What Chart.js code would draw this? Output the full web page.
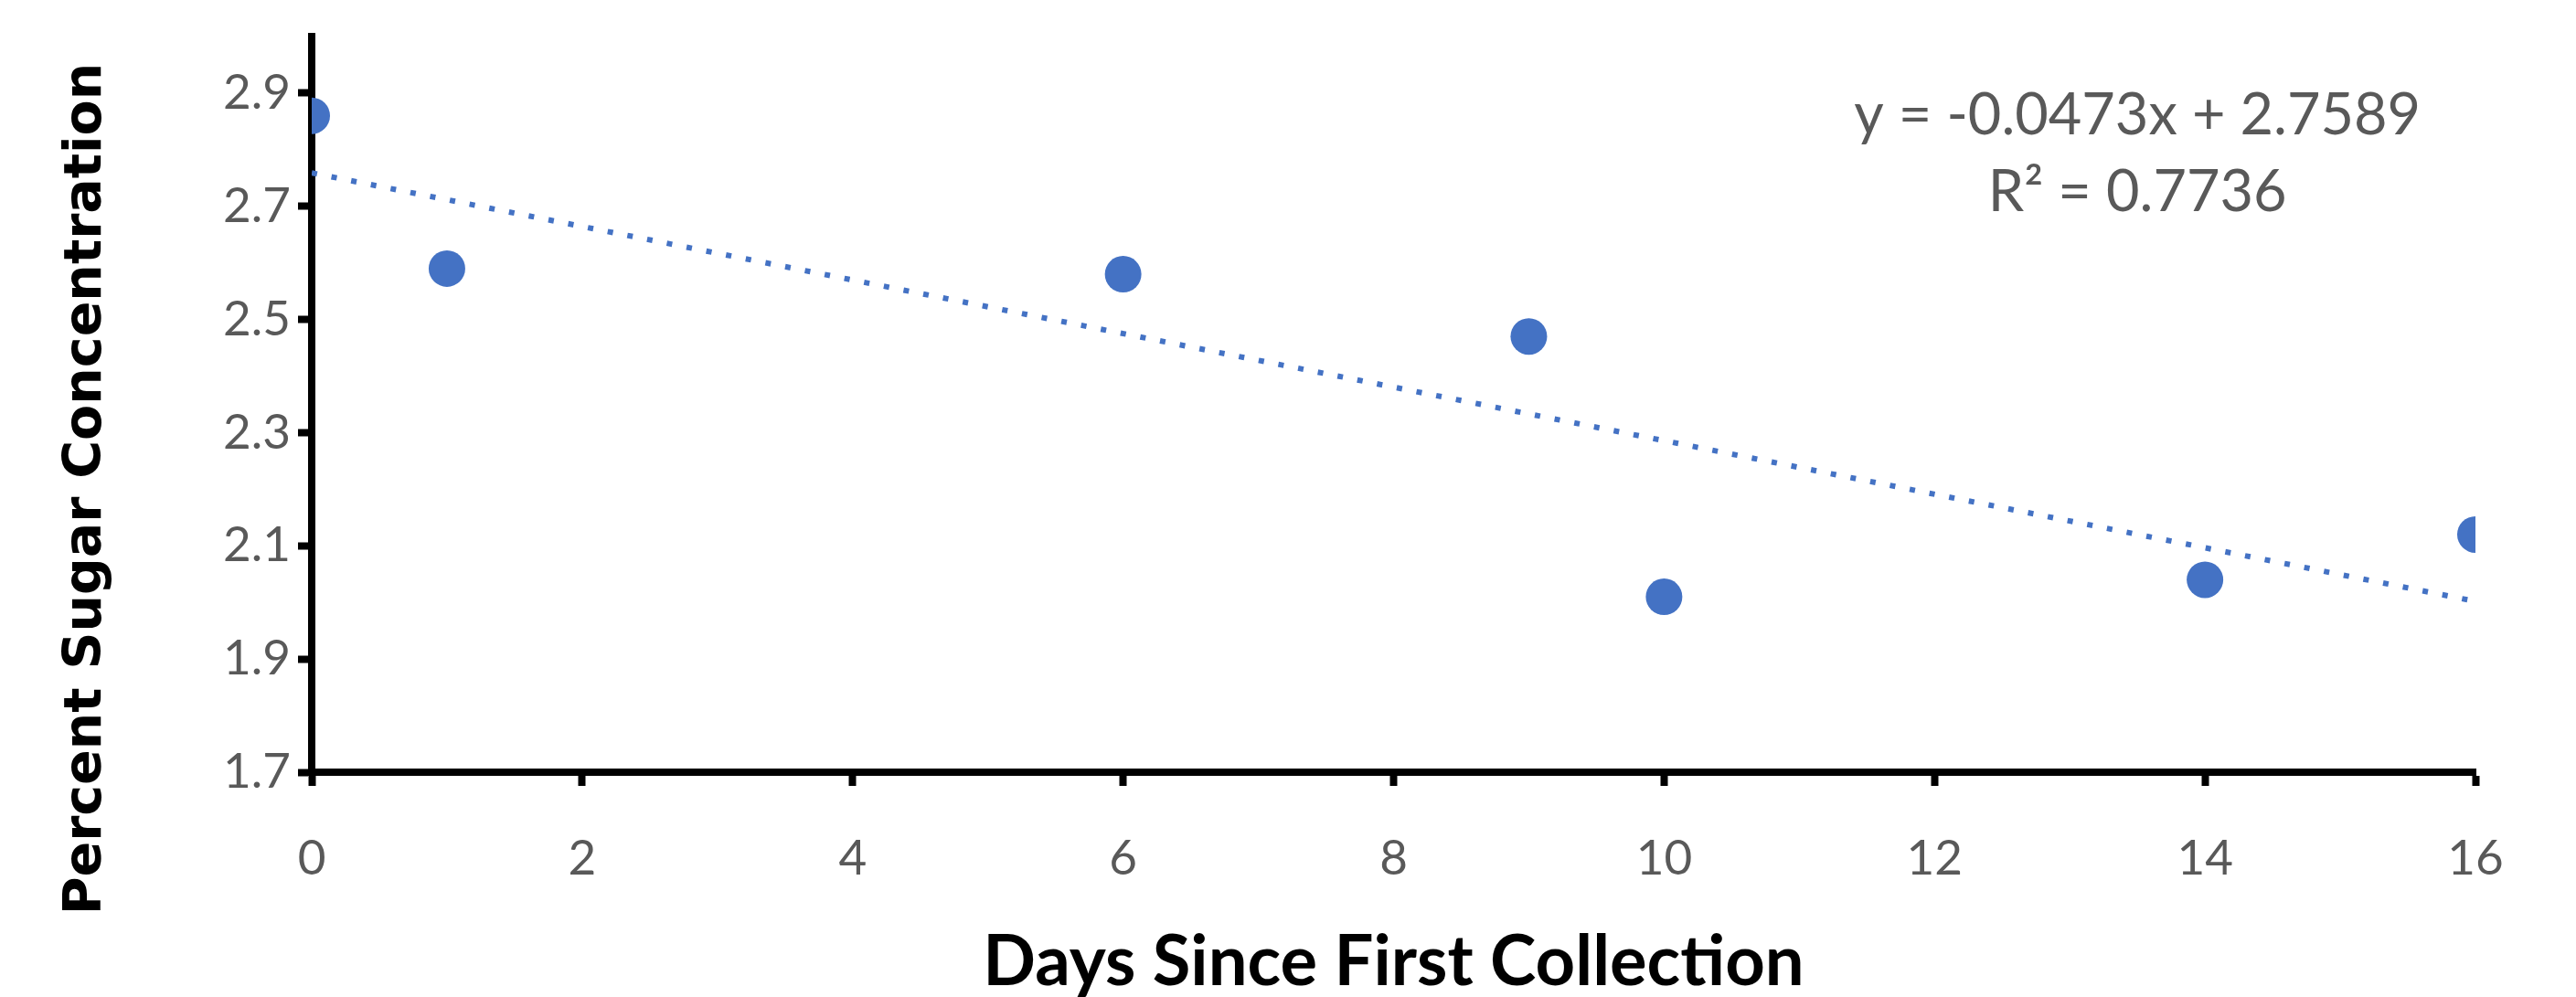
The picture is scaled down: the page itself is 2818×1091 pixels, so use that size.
<!DOCTYPE html>
<html>
<head>
<meta charset="utf-8">
<title>Percent Sugar Concentration</title>
<script src="https://cdn.jsdelivr.net/npm/chart.js@4.4.1/dist/chart.umd.min.js"></script>
<style>
  html, body { margin: 0; padding: 0; background: #fff; }
  #wrap { position: relative; width: 2818px; height: 1091px; }
</style>
</head>
<body>
<div id="wrap"><canvas id="sugarChart"></canvas></div>
<script>
// 데이터
var days = [0, 1, 6, 9, 10, 14, 16];
var sugar = [2.86, 2.59, 2.58, 2.47, 2.01, 2.04, 2.12];

// 선형 추세선 끝점 (y = -0.0473x + 2.7589)
var trendDays = [0, 16];
var trendSugar = [2.759, 2.002];

var xTicks = [0, 2, 4, 6, 8, 10, 12, 14, 16];
var yTicks = [1.7, 1.9, 2.1, 2.3, 2.5, 2.7, 2.9];

var xTitle = 'Days Since First Collection';
var yTitle = 'Percent Sugar Concentration';
var equationLines = ['y = -0.0473x + 2.7589', 'R\u00B2 = 0.7736'];

var BLUE = '#4472C4';
var LABEL_GREY = '#595959';
var TICK_FONT = { family: 'Lato, "Open Sans", sans-serif', size: 53 };

function toPoints(xs, ys) {
  return xs.map(function (x, i) { return { x: x, y: ys[i] }; });
}

// y축 제목: 엑셀처럼 살짝 아래쪽에 위치
var yTitlePlugin = {
  id: 'yTitle',
  afterDraw: function (chart) {
    var ctx = chart.ctx;
    ctx.save();
    ctx.translate(95, 535);
    ctx.rotate(-Math.PI / 2);
    ctx.font = 'bold 57px "DejaVu Sans", sans-serif';
    ctx.fillStyle = '#000';
    ctx.textAlign = 'center';
    ctx.textBaseline = 'middle';
    ctx.fillText(yTitle, 0, 0);
    ctx.restore();
  }
};

// 추세선 수식 라벨
var equationPlugin = {
  id: 'equation',
  afterDatasetsDraw: function (chart) {
    var xs = chart.scales.x, ys = chart.scales.y;
    var ctx = chart.ctx;
    var cx = xs.getPixelForValue(13.5);
    var rows = [2.86, 2.725];
    ctx.save();
    ctx.font = '63px Lato, "Open Sans", sans-serif';
    ctx.fillStyle = LABEL_GREY;
    ctx.textAlign = 'center';
    ctx.textBaseline = 'middle';
    equationLines.forEach(function (line, i) {
      ctx.fillText(line, cx, ys.getPixelForValue(rows[i]));
    });
    ctx.restore();
  }
};

new Chart(document.getElementById('sugarChart'), {
  type: 'scatter',
  data: {
    datasets: [
      {
        label: 'Sugar',
        data: toPoints(days, sugar),
        backgroundColor: BLUE,
        borderColor: BLUE,
        borderWidth: 0,
        pointRadius: 20,
        pointHoverRadius: 20,
        order: 0
      },
      {
        label: 'Linear trend',
        data: toPoints(trendDays, trendSugar),
        showLine: true,
        borderColor: BLUE,
        borderWidth: 6,
        borderDash: [6, 16],
        borderCapStyle: 'butt',
        pointRadius: 0,
        fill: false,
        order: 1
      }
    ]
  },
  options: {
    responsive: true,
    maintainAspectRatio: false,
    animation: false,
    layout: { padding: { left: 0, right: 110, top: 40, bottom: 0 } },
    plugins: {
      legend: { display: false },
      tooltip: { enabled: false }
    },
    scales: {
      x: {
        type: 'linear',
        min: 0,
        max: 16,
        afterBuildTicks: function (scale) {
          scale.ticks = xTicks.map(function (v) { return { value: v }; });
        },
        afterFit: function (scale) { scale.height = 1091 - 845; },
        border: { display: true, color: '#000', width: 8 },
        grid: { drawOnChartArea: false, drawTicks: true, tickLength: 15, tickWidth: 8, tickColor: '#000' },
        ticks: { color: LABEL_GREY, font: TICK_FONT, padding: 48, maxRotation: 0 },
        title: {
          display: true,
          text: xTitle,
          color: '#000',
          font: { family: 'Lato, "Open Sans", sans-serif', size: 76, weight: 'bold', lineHeight: 1 },
          padding: { top: 0, bottom: 0 }
        }
      },
      y: {
        type: 'linear',
        min: 1.7,
        max: 3.0,
        afterBuildTicks: function (scale) {
          scale.ticks = yTicks.map(function (v) { return { value: v }; });
        },
        afterFit: function (scale) { scale.width = 341; },
        border: { display: true, color: '#000', width: 8 },
        grid: { drawOnChartArea: false, drawTicks: true, tickLength: 15, tickWidth: 8, tickColor: '#000' },
        ticks: {
          color: LABEL_GREY,
          font: TICK_FONT,
          padding: 8,
          callback: function (v) { return v.toFixed(1); }
        }
      }
    }
  },
  plugins: [yTitlePlugin, equationPlugin]
});
</script>
</body>
</html>
